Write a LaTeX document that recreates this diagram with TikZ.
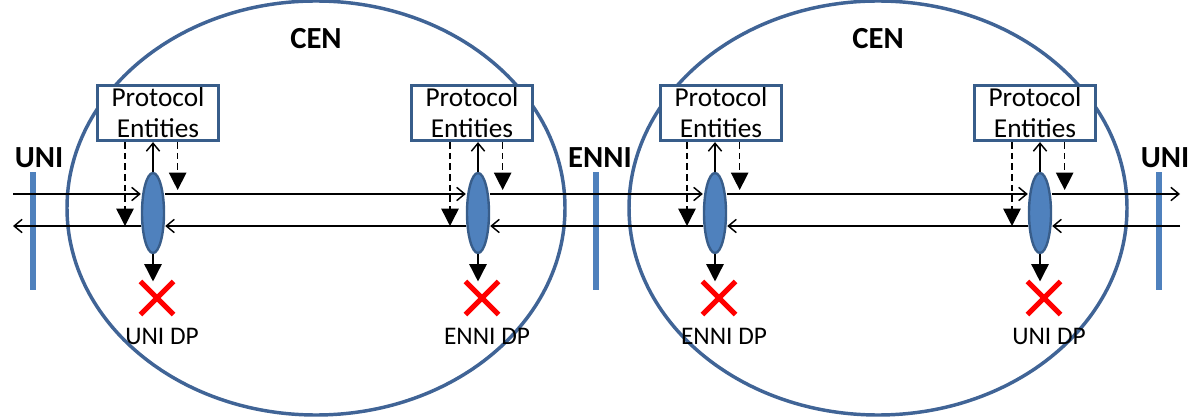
\documentclass[tikz,border=0pt]{standalone}
\usepackage{fontspec}
\setmainfont{Carlito}
\usetikzlibrary{arrows.meta, shapes.geometric, shapes.misc}
\definecolor{cenblue}{RGB}{64,100,150}
\definecolor{dpblue}{RGB}{79,129,189}
\definecolor{dpedge}{RGB}{56,93,138}

\begin{document}
\begin{tikzpicture}[x=0.75pt, y=-0.75pt,
  cen/.style={draw=cenblue, line width=2.6pt},
  bar/.style={draw=dpblue, line width=3.8pt},
  flow/.style={line width=1.1pt, -{Straight Barb[length=6pt,width=10pt]}},
  drop/.style={line width=1.1pt, -{Triangle[length=13pt,width=13pt]}},
  pbox/.style={draw=dpedge, line width=2.4pt, fill=white, minimum width=90.75pt, minimum height=41.25pt, inner sep=0pt, align=center, font=\fontsize{20.5}{23.25}\selectfont},
  dp/.style={ellipse, draw=dpedge, line width=1.8pt, fill=dpblue, minimum width=16.5pt, minimum height=60pt, inner sep=0pt},
  kill/.style={cross out, draw=red, line width=3.8pt, minimum size=21pt, inner sep=0pt},
  head/.style={font=\fontsize{23}{25}\bfseries},
  dplabel/.style={font=\fontsize{19}{21}\selectfont}]
\useasboundingbox (0,0) rectangle (1191,417);

% the two networks
\draw[cen] (316,208) ellipse (249 and 207);
\draw[cen] (878,208) ellipse (249 and 207);
\node[head] (cen1) at (316,39) {CEN};
\node[head] (cen2) at (878,39) {CEN};

% interfaces
\draw[bar] (33,172) -- (33,290);
\draw[bar] (596,172) -- (596,290);
\draw[bar] (1159,172) -- (1159,290);
\node[head] (uni1) at (39,158) {UNI};
\node[head] (enni) at (600,158) {ENNI};
\node[head] (uni2) at (1165,158) {UNI};

\coordinate (uL) at (13,194);
\coordinate (uR) at (1180,194);
\coordinate (lL) at (13,226);
\coordinate (lR) at (1180,226);

% decision points
\foreach \i/\x/\b/\t in {1/153/158/UNI DP, 2/478/472/ENNI DP, 3/715/721/ENNI DP, 4/1040/1035/UNI DP} {
  \node[dp] (dp\i) at (\x,213) {};
  \node[pbox] (box\i) at (\b,113) {Protocol\\Entities};
  \draw[flow] (dp\i.north) -- (dp\i.north |- box\i.south);
  \draw[drop, dash pattern=on 5pt off 3pt] ([xshift=-21pt]dp\i.center |- box\i.south) -- ([xshift=-21pt]dp\i.center |- lL);
  \draw[drop, dash pattern=on 5pt off 3pt] ([xshift=18.5pt]dp\i.center |- box\i.south) -- ([xshift=18.5pt,yshift=3pt]dp\i.center |- uL);
  \node[kill] (x\i) at (\x+4,298) {};
  \draw[drop] (dp\i.south) -- (dp\i.south |- x\i.north);
  \node[dplabel] (lab\i) at (\x+9,336) {\t};
}

% upstream
\draw[flow] (uL) -- (uL -| dp1.west);
\draw[flow] (uL -| dp1.east) -- (uL -| dp2.west);
\draw[flow] (uL -| dp2.east) -- (uL -| dp3.west);
\draw[flow] (uL -| dp3.east) -- (uL -| dp4.west);
\draw[flow] (uL -| dp4.east) -- (uR);
% downstream
\draw[flow] (lR) -- (lL -| dp4.east);
\draw[flow] (lL -| dp4.west) -- (lL -| dp3.east);
\draw[flow] (lL -| dp3.west) -- (lL -| dp2.east);
\draw[flow] (lL -| dp2.west) -- (lL -| dp1.east);
\draw[flow] (lL -| dp1.west) -- (lL);
\end{tikzpicture}
\end{document}
